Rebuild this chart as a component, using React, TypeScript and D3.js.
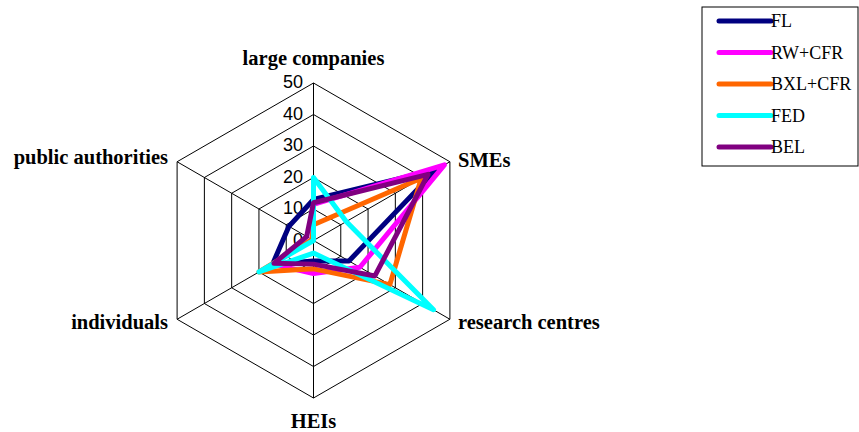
import React from "react";
import * as d3 from "d3";

// Axes, clockwise from the top
const categories = [
  "large companies",
  "SMEs",
  "research centres",
  "HEIs",
  "individuals",
  "public authorities",
];

// Series values per axis (same order as categories)
const seriesNames = ["FL", "RW+CFR", "BXL+CFR", "FED", "BEL"];
const flValues = [13, 45, 13, 6.5, 15, 9];
const rwValues = [11.5, 48, 17, 10.5, 15, 0.5];
const bxlValues = [5, 39.5, 28, 9, 20, 0.5];
const fedValues = [20, 12, 44, 4, 20, 0];
const belValues = [12, 42, 22.5, 7.5, 14.5, 2.5];
const seriesColors = ["#000080", "#FF00FF", "#FF6600", "#00FFFF", "#800080"];

const tickValues = [0, 10, 20, 30, 40, 50];

const W = 859;
const H = 432;
const cx = 313.5;
const cy = 240.5;
const R = 157.5;

export default function App() {
  const series = [flValues, rwValues, bxlValues, fedValues, belValues].map(
    (values, i) => ({ name: seriesNames[i], values, color: seriesColors[i] })
  );

  const r = d3.scaleLinear().domain([0, 50]).range([0, R]);
  const ang = (i: number) => (i * 2 * Math.PI) / categories.length;

  const pt = (i: number, v: number): [number, number] => {
    const a = ang(i);
    return [cx + r(v) * Math.sin(a), cy - r(v) * Math.cos(a)];
  };

  const radial = d3
    .lineRadial<number>()
    .angle((_, i) => ang(i))
    .radius((v) => r(v))
    .curve(d3.curveLinearClosed);

  const ringPath = (v: number) => radial(categories.map(() => v)) || "";

  const legendX = 702;
  const legendY = 7;
  const legendStep = 31.5;

  const labelPos: { x: number; y: number; anchor: string }[] = [
    { x: cx, y: 65, anchor: "middle" },
    { x: 458, y: 167, anchor: "start" },
    { x: 458, y: 329, anchor: "start" },
    { x: cx, y: 428, anchor: "middle" },
    { x: 168, y: 329, anchor: "end" },
    { x: 168, y: 164, anchor: "end" },
  ];

  return (
    <div style={{ position: "fixed", left: 0, top: 0 }}>
      <svg width={W} height={H} style={{ display: "block", background: "#fff" }}>
        {/* grid rings */}
        <g transform={`translate(${cx},${cy})`} fill="none" stroke="#000" strokeWidth={1}>
          {tickValues
            .filter((t) => t > 0)
            .map((t) => (
              <path key={t} d={ringPath(t)} />
            ))}
        </g>
        {/* spokes */}
        <g stroke="#000" strokeWidth={1}>
          {categories.map((c, i) => {
            const [x, y] = pt(i, 50);
            return <line key={c} x1={cx} y1={cy} x2={x} y2={y} />;
          })}
        </g>
        {/* tick labels */}
        <g fontFamily="Liberation Sans, Arial, sans-serif" fontSize={18} fill="#000">
          {tickValues.map((t) => (
            <text key={t} x={303} y={cy - r(t) + 5} textAnchor="end">
              {t}
            </text>
          ))}
        </g>
        {/* series */}
        <g transform={`translate(${cx},${cy})`} fill="none">
          {series.map((s) => (
            <path
              key={s.name}
              d={radial(s.values) || ""}
              stroke={s.color}
              strokeWidth={5}
              strokeLinejoin="round"
            />
          ))}
        </g>
        {/* category labels */}
        <g
          fontFamily="Liberation Serif, Times New Roman, serif"
          fontWeight="bold"
          fontSize={20.5}
          fill="#000"
        >
          {categories.map((c, i) => (
            <text
              key={c}
              x={labelPos[i].x}
              y={labelPos[i].y}
              textAnchor={labelPos[i].anchor as any}
            >
              {c}
            </text>
          ))}
        </g>
        {/* legend */}
        <rect
          x={legendX}
          y={legendY}
          width={156}
          height={159}
          fill="#fff"
          stroke="#000"
          strokeWidth={1}
        />
        <g fontFamily="Liberation Serif, Times New Roman, serif" fontSize={18} fill="#000">
          {series.map((s, i) => {
            const y = legendY + 14 + i * legendStep;
            return (
              <g key={s.name}>
                <line
                  x1={719}
                  x2={771}
                  y1={y}
                  y2={y}
                  stroke={s.color}
                  strokeWidth={5}
                  strokeLinecap="round"
                />
                <text x={771} y={y + 6}>
                  {s.name}
                </text>
              </g>
            );
          })}
        </g>
      </svg>
    </div>
  );
}
